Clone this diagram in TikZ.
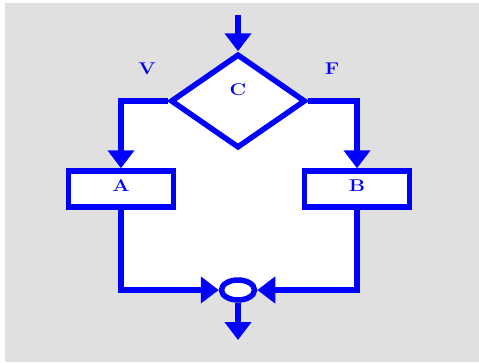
\documentclass[tikz,border=0pt]{standalone}
\usetikzlibrary{shapes.geometric,arrows.meta}
\definecolor{bg}{RGB}{224,224,224}
\definecolor{fc}{RGB}{0,0,255}
\begin{document}
\begin{tikzpicture}[x=1pt,y=-1pt,
  lbl/.style={font=\fontsize{17}{17}\selectfont\bfseries, text=fc, xscale=1.2, inner sep=0pt},
  flow/.style={draw=fc, line width=5.5pt, fill=white},
  conn/.style={draw=fc, line width=5.5pt, -{Triangle[width=26pt,length=18pt]}}]
\useasboundingbox (0,0) rectangle (479,362);
\fill[white] (0,0) rectangle (479,362);
\fill[bg] (5,3) rectangle (479,362);
\fill[white] (120,100) -- (172,100) -- (238,54) -- (305,100) -- (356,100) -- (356,290) -- (120,290) -- cycle;
\node[flow, diamond, minimum width=135pt, minimum height=94pt, inner sep=0pt] (c) at (238,101) {};
\node[lbl] at (238,90) {C};
\node[flow, rectangle, minimum width=105pt, minimum height=36pt] (a) at (121,189) {};
\node[lbl] at (121,186) {A};
\node[flow, rectangle, minimum width=105pt, minimum height=36pt] (b) at (357,189) {};
\node[lbl] at (357,186) {B};
\node[flow, ellipse, minimum width=33pt, minimum height=20pt, inner sep=0pt] (o) at (238,290) {};
\node[lbl] (v) at (147,69) {V};
\node[lbl] (f) at (332,69) {F};
\coordinate (in) at (238,15);
\coordinate (out) at (238,340);
\draw[conn] (in) -- (c.north);
\draw[conn] (c.west) -| (a.north);
\draw[conn] (c.east) -| (b.north);
\draw[conn] (a.south) |- (o.west);
\draw[conn] (b.south) |- (o.east);
\draw[conn] (o.south) -- (out);
\end{tikzpicture}
\end{document}
